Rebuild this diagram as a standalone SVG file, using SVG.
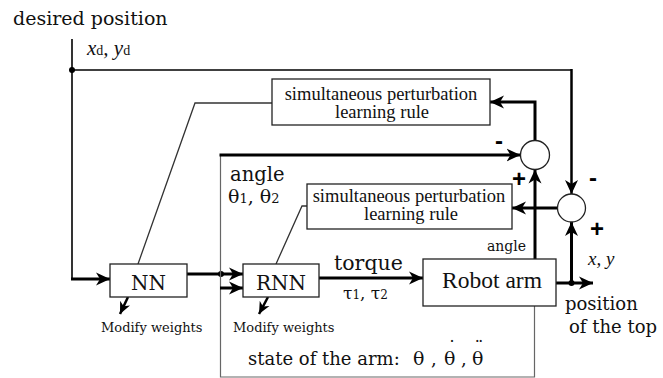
<svg xmlns="http://www.w3.org/2000/svg" width="663" height="378" viewBox="0 0 663 378">
<style>
.bg{fill:#fff}
.box{fill:#fff;stroke:#222;stroke-width:1.3}
.thin{fill:none;stroke:#333;stroke-width:1.3}
.frame{fill:none;stroke:#666;stroke-width:1.2}
.thick{fill:none;stroke:#000;stroke-width:3}
.mid{fill:none;stroke:#000;stroke-width:2.5}
.cen{font-family:"DejaVu Serif",serif;fill:#111}
.tnr{font-family:"Liberation Serif","Times New Roman",serif;fill:#111}
.it{font-family:"Liberation Serif","Times New Roman",serif;font-style:italic;fill:#111}
.sign{font-family:"Liberation Sans",Arial,sans-serif;font-weight:bold;font-size:24px;fill:#000}
.dot{fill:#000}
</style>
<defs>
<marker id="arr" markerUnits="userSpaceOnUse" markerWidth="16" markerHeight="14" viewBox="0 0 16 14" refX="14" refY="7" orient="auto">
<path d="M0,0.5 L14,7 L0,13.5 L4,7 z" fill="#000"/>
</marker>
<marker id="arrs" markerUnits="userSpaceOnUse" markerWidth="13" markerHeight="12" viewBox="0 0 13 12" refX="12" refY="6" orient="auto">
<path d="M0,0.5 L12,6 L0,11.5 L3.5,6 z" fill="#000"/>
</marker>
</defs>
<rect class="bg" x="0" y="0" width="663" height="378"/>

<g id="connectors">
<path class="thin" d="M72,39 V279" style="stroke:#000;stroke-width:1.6"/>
<path class="thick" d="M71,279 H110" marker-end="url(#arr)"/>
<path class="thin" d="M72,70 H571.5" style="stroke:#000;stroke-width:1.5"/>
<path class="mid" d="M571.5,69 V194" marker-end="url(#arr)"/>
<circle class="dot" cx="72" cy="70" r="3"/>
<path class="thick" d="M187,274 H243" marker-end="url(#arr)"/>
<circle class="dot" cx="221" cy="274" r="3"/>
<path class="frame" d="M534.5,306 V377 H220.5 V155"/>
<path class="thick" d="M219.5,155 H520.5" marker-end="url(#arr)"/>
<path class="thick" d="M220,288 H243" marker-end="url(#arr)"/>
<path class="thick" d="M319,278 H423" marker-end="url(#arr)"/>
<path class="thick" d="M535,259 V169.5" marker-end="url(#arr)"/>
<path class="thick" d="M556,283 H593" marker-end="url(#arr)"/>
<circle class="dot" cx="571.5" cy="283" r="3"/>
<path class="thick" d="M571.5,283 V222" marker-end="url(#arr)"/>
<path class="thick" d="M535,140.5 V102 H490" marker-end="url(#arr)"/>
<path class="thick" d="M557.5,208 H512" marker-end="url(#arr)"/>
<path class="thin" d="M272,103 H195 L138,264"/>
<path class="thin" d="M307,206 H302 L276,264"/>
<path class="mid" d="M128,297 L120,314" marker-end="url(#arrs)"/>
<path class="mid" d="M268,297 L259,314" marker-end="url(#arrs)"/>
</g>

<g id="desired">
<text class="cen" x="13" y="25" font-size="19">desired position</text>
<text class="it" x="87" y="55" font-size="21">x<tspan font-style="normal" font-size="14">d</tspan>, y<tspan font-style="normal" font-size="14">d</tspan></text>
</g>

<g id="rule1">
<rect class="box" x="272" y="79" width="218" height="46"/>
<text class="tnr" x="381" y="99.5" font-size="18.5" text-anchor="middle">simultaneous perturbation</text>
<text class="tnr" x="382" y="118" font-size="18.5" text-anchor="middle">learning rule</text>
</g>

<g id="rule2">
<rect class="box" x="307" y="184" width="205" height="45"/>
<text class="tnr" x="409" y="201.5" font-size="18.5" text-anchor="middle">simultaneous perturbation</text>
<text class="tnr" x="411" y="220" font-size="18.5" text-anchor="middle">learning rule</text>
</g>

<g id="nn">
<rect class="box" x="110" y="264" width="77" height="33"/>
<text class="cen" x="148.5" y="289.5" font-size="20" text-anchor="middle">NN</text>
</g>

<g id="rnn">
<rect class="box" x="243" y="264" width="76" height="33"/>
<text class="cen" x="281" y="289.5" font-size="20" text-anchor="middle">RNN</text>
</g>

<g id="robot">
<rect class="box" x="423" y="259" width="133" height="47"/>
<text class="tnr" x="492" y="288" font-size="23.5" text-anchor="middle">Robot arm</text>
</g>

<g id="sum1">
<circle class="box" cx="535" cy="155" r="14.5"/>
<text class="sign" x="499" y="149" text-anchor="middle">-</text>
<text class="sign" x="519" y="186.5" text-anchor="middle">+</text>
</g>

<g id="sum2">
<circle class="box" cx="571.5" cy="208" r="14"/>
<text class="sign" x="593" y="186" text-anchor="middle">-</text>
<text class="sign" x="597" y="236.5" text-anchor="middle">+</text>
</g>

<g id="labels">
<text class="cen" x="230" y="180.5" font-size="19.5">angle</text>
<text class="cen" x="228" y="203" font-size="19">θ<tspan font-size="13">1</tspan>,  θ<tspan font-size="13">2</tspan></text>
<text class="cen" x="334" y="270" font-size="20.5">torque</text>
<text class="cen" x="343" y="299" font-size="17">τ<tspan font-size="12">1</tspan>, τ<tspan font-size="12">2</tspan></text>
<text class="cen" x="487" y="251" font-size="14">angle</text>
<text class="it" x="588" y="265" font-size="19">x, y</text>
<text class="cen" x="565" y="310" font-size="18">position</text>
<text class="cen" x="569" y="333" font-size="18">of the top</text>
<text class="cen" x="101" y="332" font-size="13">Modify weights</text>
<text class="cen" x="233" y="332" font-size="13">Modify weights</text>
<text class="cen" x="248" y="365" font-size="18">state of the arm:<tspan x="413" font-size="19">θ</tspan><tspan x="431">,</tspan><tspan x="444" font-size="19">θ</tspan><tspan x="447.5" y="353.5">˙</tspan><tspan x="461" y="365">,</tspan><tspan x="472" font-size="19">θ</tspan><tspan x="474.5" y="353.5">¨</tspan></text>
</g>
</svg>
